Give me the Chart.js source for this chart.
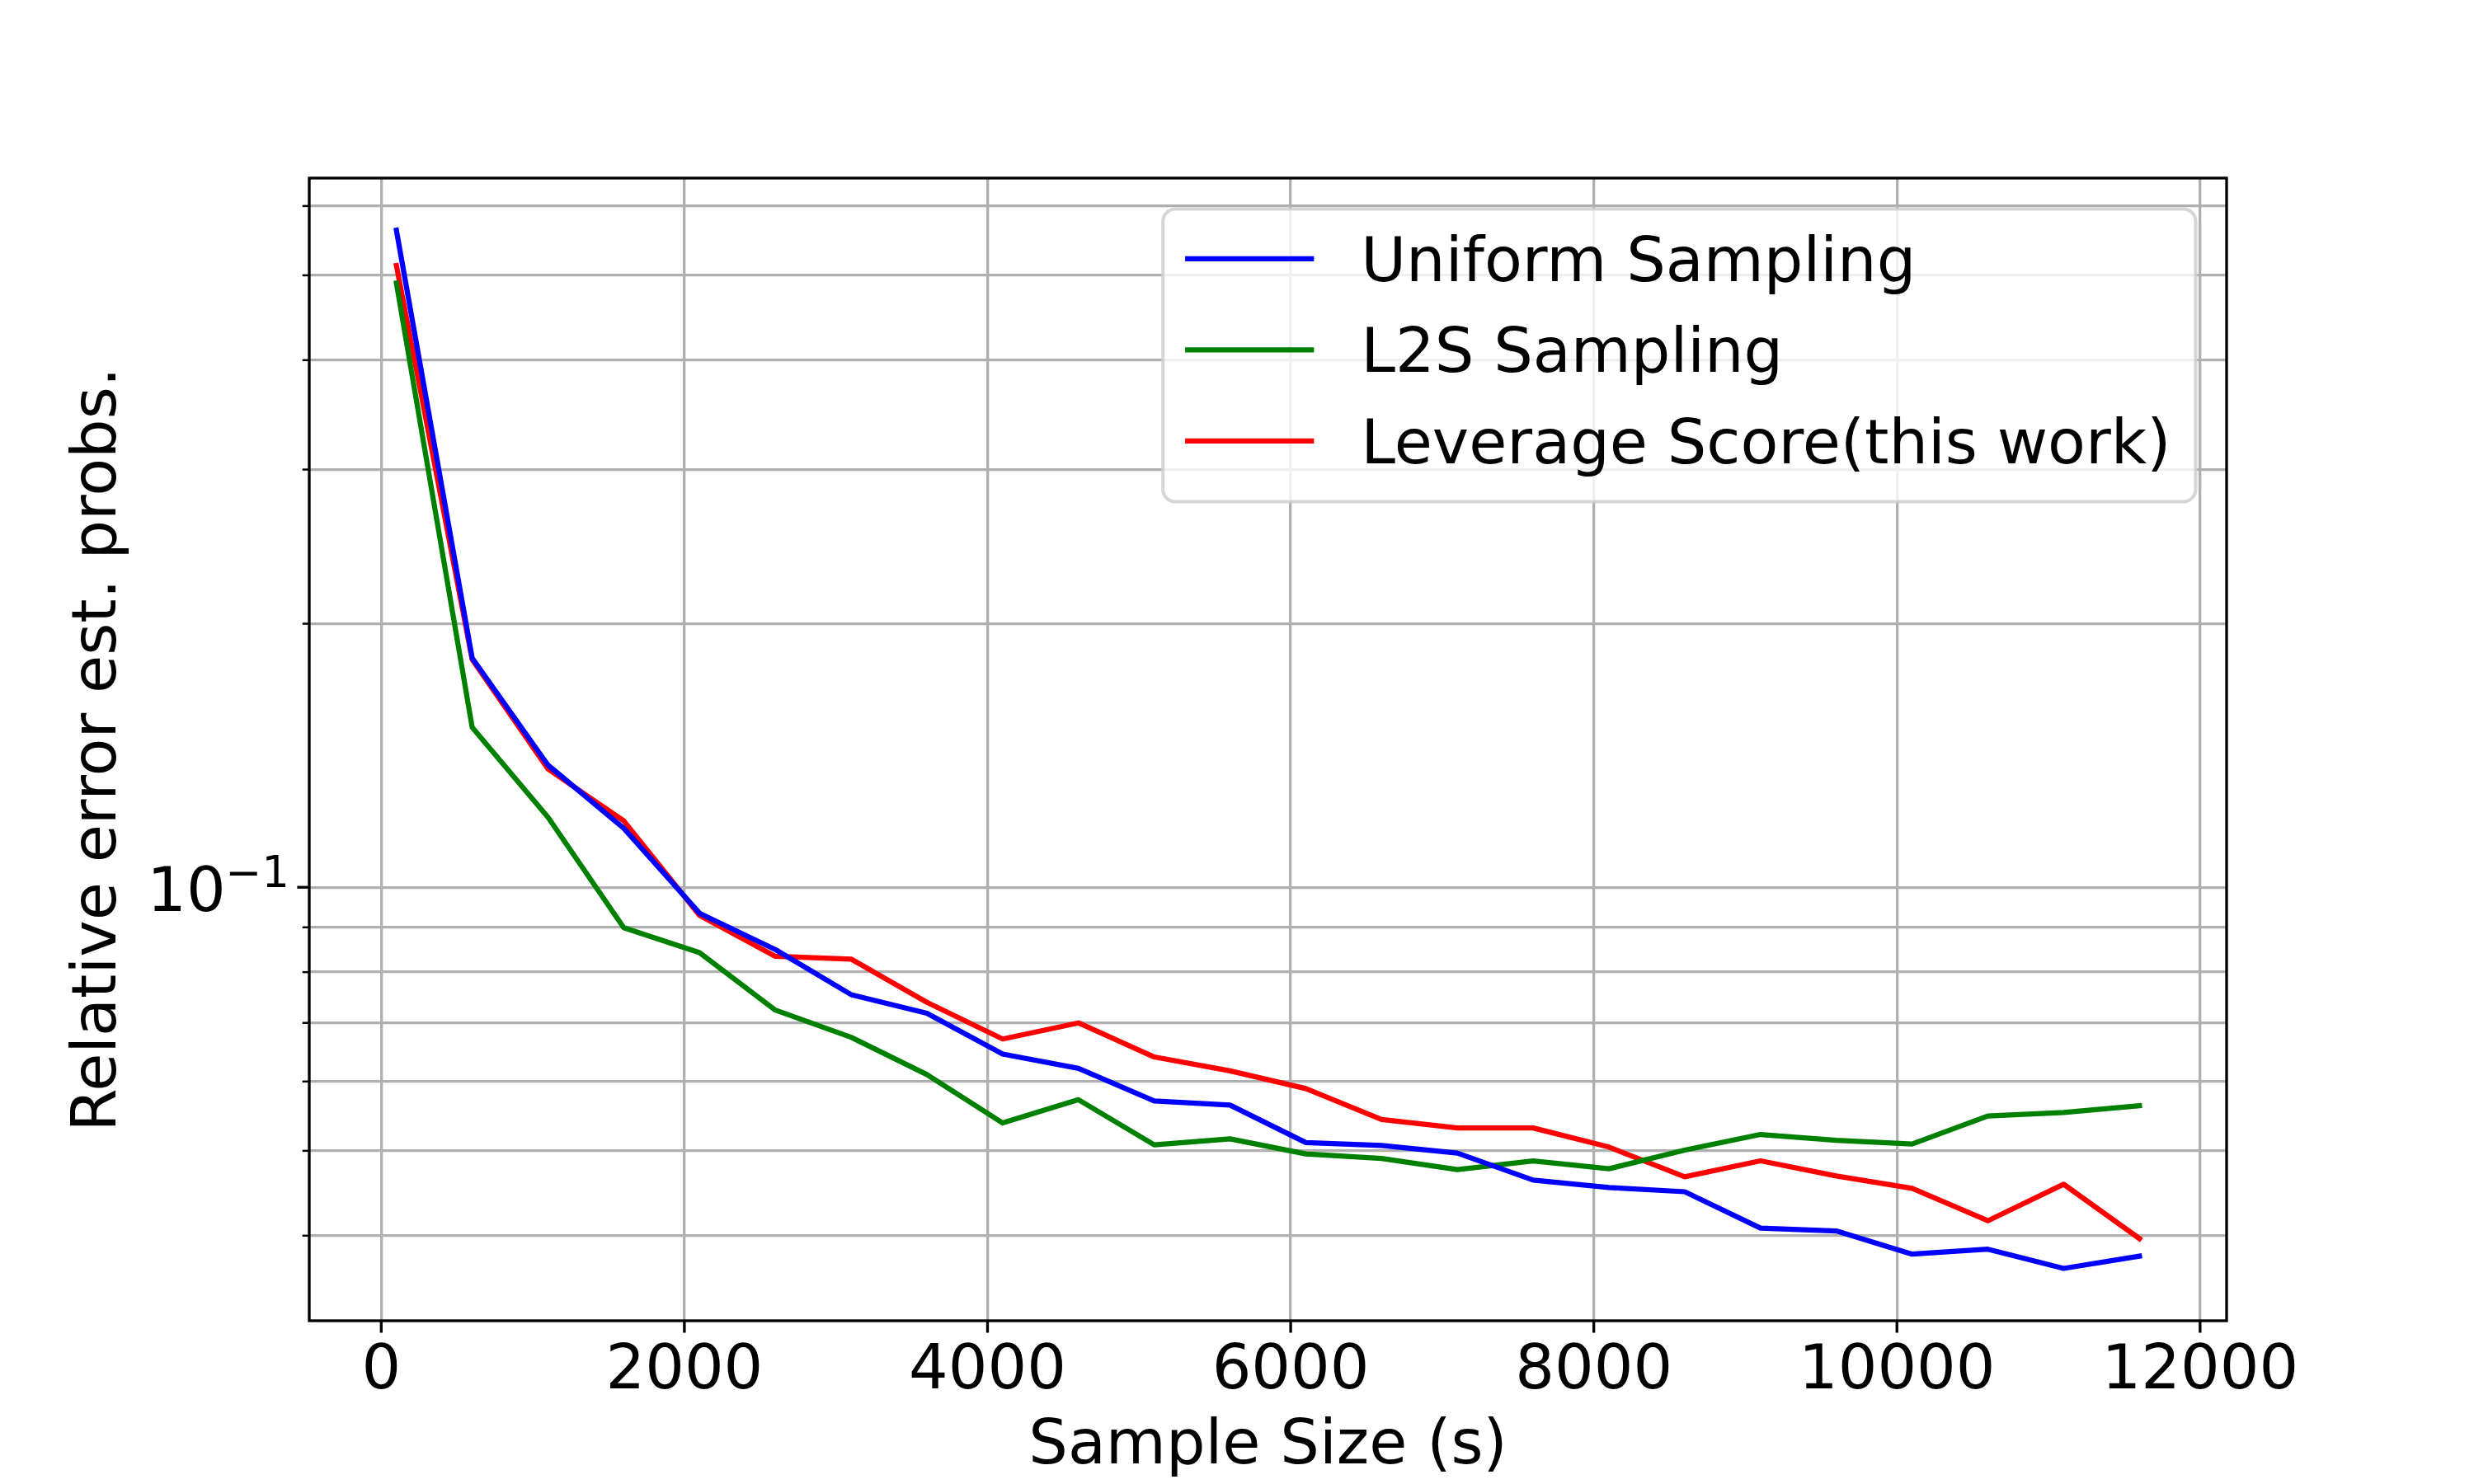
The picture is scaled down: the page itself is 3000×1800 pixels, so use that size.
<!DOCTYPE html>
<html><head><meta charset="utf-8">
<script src="https://cdn.jsdelivr.net/npm/chart.js@4.4.1/dist/chart.umd.min.js"></script>
<style>html,body{margin:0;padding:0;background:#fff}canvas{display:block}</style>
</head><body>
<canvas id="c" width="3000" height="1800" style="width:3000px;height:1800px"></canvas>
<script>
// ---- data ----
const sampleSizes = [100, 600, 1100, 1600, 2100, 2600, 3100, 3600, 4100, 4600, 5100, 5600,
                     6100, 6600, 7100, 7600, 8100, 8600, 9100, 9600, 10100, 10600, 11100, 11600];
const uniformSampling = [0.563, 0.1827, 0.1379, 0.1168, 0.0934, 0.0849, 0.0754, 0.0718, 0.0645, 0.0621, 0.0570, 0.0564,
                         0.0511, 0.0507, 0.0497, 0.0463, 0.0454, 0.0449, 0.0408, 0.0405, 0.0381, 0.0386, 0.0367, 0.0379];
const l2sSampling = [0.490, 0.1523, 0.1202, 0.0899, 0.0842, 0.0724, 0.0674, 0.0611, 0.0538, 0.0572, 0.0508, 0.0516,
                     0.0496, 0.0490, 0.0476, 0.0487, 0.0477, 0.0501, 0.0522, 0.0514, 0.0509, 0.0548, 0.0553, 0.0563];
const leverageScore = [0.513, 0.1820, 0.1365, 0.1191, 0.0929, 0.0834, 0.0828, 0.0739, 0.0671, 0.0700, 0.0640, 0.0617,
                       0.0589, 0.0543, 0.0531, 0.0531, 0.0505, 0.0467, 0.0487, 0.0468, 0.0453, 0.0416, 0.0458, 0.0397];
const seriesLabels = ['Uniform Sampling', 'L2S Sampling', 'Leverage Score(this work)'];
const xTickValues = [0, 2000, 4000, 6000, 8000, 10000, 12000];
const yTickValues = [0.04, 0.05, 0.06, 0.07, 0.08, 0.09, 0.1, 0.2, 0.3, 0.4, 0.5, 0.6];
const yMajorTickLabels = { base: '10', exponent: '\u22121' }; // label of the 0.1 tick: 10^-1
const xAxisTitle = 'Sample Size (s)';
const yAxisTitle = 'Relative error est. probs.';

// ---- styling ----
const FONT = 'DejaVu Sans';
const FS = 75;
const LW = 3.33;
Chart.defaults.font.family = FONT;
Chart.defaults.color = '#000';

const toPts = arr => sampleSizes.map((s, i) => ({ x: s, y: arr[i] }));

const decorPlugin = {
  id: 'decor',
  afterDatasetsDraw(chart) {
    const { ctx, chartArea: a, scales } = chart;
    const xs = scales.x, ys = scales.y;
    ctx.save();
    // frame (all four spines)
    ctx.strokeStyle = '#000';
    ctx.lineWidth = LW;
    ctx.strokeRect(a.left, a.top, a.right - a.left, a.bottom - a.top);
    // x tick marks
    ctx.beginPath();
    xTickValues.forEach(v => {
      const px = xs.getPixelForValue(v);
      ctx.moveTo(px, a.bottom); ctx.lineTo(px, a.bottom + 14.6);
    });
    ctx.stroke();
    // y tick marks
    yTickValues.forEach(v => {
      const py = ys.getPixelForValue(v);
      const major = Math.abs(v - 0.1) < 1e-9;
      ctx.beginPath();
      ctx.lineWidth = major ? LW : 2.5;
      ctx.moveTo(a.left, py); ctx.lineTo(a.left - (major ? 14.6 : 8.3), py);
      ctx.stroke();
    });
    // y major tick label 10^-1
    const py = ys.getPixelForValue(0.1);
    const rightEdge = a.left - 24;
    ctx.fillStyle = '#000';
    ctx.textBaseline = 'alphabetic';
    ctx.font = `${FS * 0.7}px "${FONT}"`;
    const wSup = ctx.measureText(yMajorTickLabels.exponent).width;
    ctx.textAlign = 'left';
    ctx.fillText(yMajorTickLabels.exponent, rightEdge - wSup, py - 0.5);
    ctx.font = `${FS}px "${FONT}"`;
    ctx.textAlign = 'right';
    ctx.fillText(yMajorTickLabels.base, rightEdge - wSup, py + 28.6);

    // legend (upper right)
    ctx.font = `${FS}px "${FONT}"`;
    const ds = chart.data.datasets;
    const maxW = Math.max(...ds.map(d => ctx.measureText(d.label).width));
    const pad = 0.4 * FS, handleLen = 2 * FS, handleGap = 0.8 * FS;
    const boxRight = a.right - 0.5 * FS;
    const boxTop = a.top + 0.5 * FS;
    const boxW = pad + handleLen + handleGap + maxW + pad;
    const boxLeft = boxRight - boxW;
    const boxH = 355;
    const r = 0.2 * FS;
    ctx.beginPath();
    ctx.moveTo(boxLeft + r, boxTop);
    ctx.arcTo(boxRight, boxTop, boxRight, boxTop + boxH, r);
    ctx.arcTo(boxRight, boxTop + boxH, boxLeft, boxTop + boxH, r);
    ctx.arcTo(boxLeft, boxTop + boxH, boxLeft, boxTop, r);
    ctx.arcTo(boxLeft, boxTop, boxRight, boxTop, r);
    ctx.closePath();
    ctx.fillStyle = 'rgba(255,255,255,0.8)';
    ctx.fill();
    ctx.lineWidth = 4.17;
    ctx.strokeStyle = 'rgba(204,204,204,0.8)';
    ctx.stroke();
    ds.forEach((d, i) => {
      const yRow = boxTop + 60.3 + i * 110.5;
      ctx.beginPath();
      ctx.strokeStyle = d.borderColor;
      ctx.lineWidth = 6.25;
      ctx.lineCap = 'square';
      ctx.moveTo(boxLeft + pad, yRow);
      ctx.lineTo(boxLeft + pad + handleLen, yRow);
      ctx.stroke();
      ctx.fillStyle = '#000';
      ctx.textAlign = 'left';
      ctx.textBaseline = 'alphabetic';
      ctx.fillText(d.label, boxLeft + pad + handleLen + handleGap, yRow + 27);
    });
    ctx.restore();
  }
};

const lineDs = (label, arr, color) => ({
  label, data: toPts(arr), borderColor: color, backgroundColor: color,
  borderWidth: 6.25, pointRadius: 0, tension: 0, fill: false,
  borderCapStyle: 'square', borderJoinStyle: 'round'
});

new Chart(document.getElementById('c'), {
  type: 'line',
  data: {
    datasets: [
      lineDs(seriesLabels[0], uniformSampling, '#0000ff'),
      lineDs(seriesLabels[1], l2sSampling, '#008000'),
      lineDs(seriesLabels[2], leverageScore, '#ff0000')
    ]
  },
  options: {
    responsive: false,
    devicePixelRatio: 1,
    animation: false,
    layout: { padding: { top: 216, right: 300, left: 0, bottom: 0 } },
    plugins: { legend: { display: false }, tooltip: { enabled: false } },
    scales: {
      x: {
        type: 'linear', min: -475, max: 12175,
        afterBuildTicks: s => { s.ticks = xTickValues.map(v => ({ value: v })); },
        afterFit: s => { s.height = 198; },
        grid: { color: '#b0b0b0', lineWidth: LW, drawTicks: false },
        border: { display: false },
        ticks: { font: { size: FS, lineHeight: 1.2 }, color: '#000', padding: 18, maxRotation: 0,
                 autoSkip: false, callback: v => String(v) },
        title: { display: true, text: xAxisTitle, font: { size: FS, lineHeight: 1.2 }, color: '#000',
                 padding: { top: 0, bottom: -1 } }
      },
      y: {
        type: 'logarithmic', min: 0.03198, max: 0.6457,
        afterBuildTicks: s => { s.ticks = yTickValues.map(v => ({ value: v, major: v === 0.1 })); },
        afterFit: s => { s.width = 375; },
        grid: { color: '#b0b0b0', lineWidth: LW, drawTicks: false },
        border: { display: false },
        ticks: { font: { size: FS }, callback: () => '' , autoSkip: false},
        title: { display: true, text: yAxisTitle, font: { size: FS, lineHeight: 1.2 }, color: '#000',
                 padding: { top: 76, bottom: 0 } }
      }
    }
  },
  plugins: [decorPlugin]
});
</script>
</body></html>
